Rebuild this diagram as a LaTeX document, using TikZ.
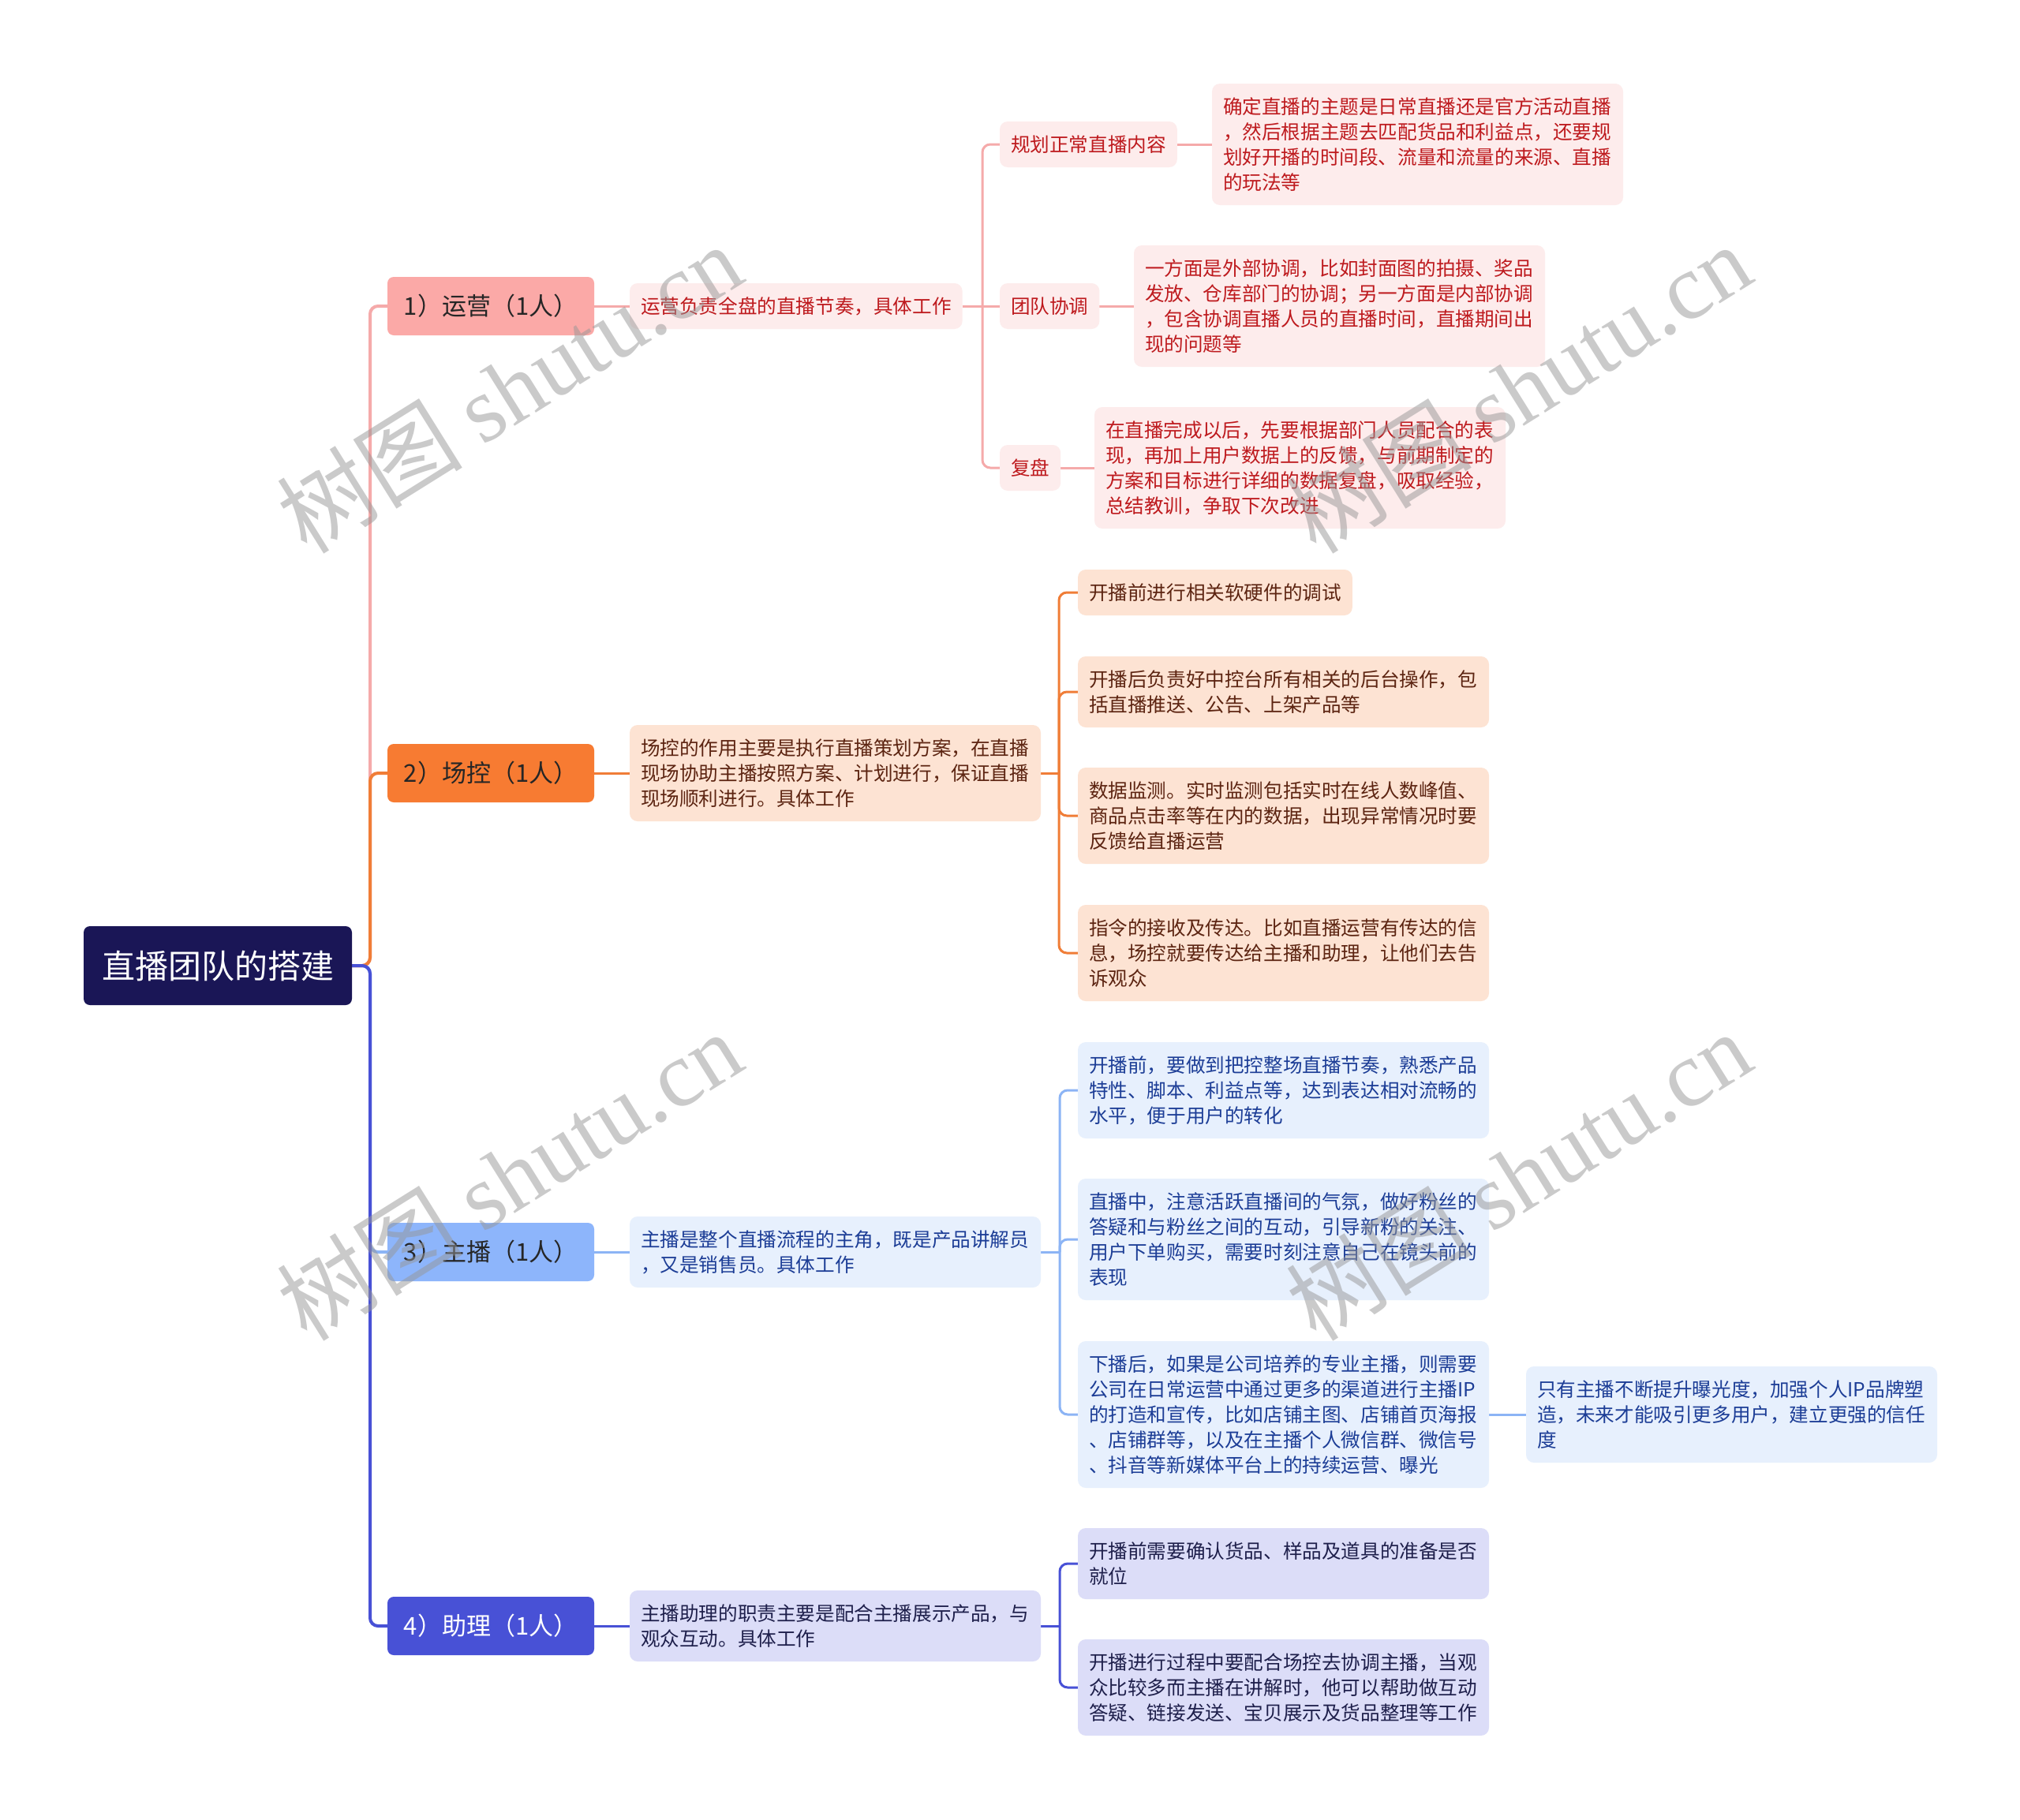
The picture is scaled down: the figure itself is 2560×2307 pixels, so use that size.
\documentclass[tikz,border=0pt]{standalone}
\usepackage{fontspec}
\setmainfont{Noto Sans CJK SC}
\newfontfamily\wmlatin{Liberation Serif}
\usetikzlibrary{backgrounds}
\definecolor{rootc}{HTML}{1A1656}
\definecolor{p1}{HTML}{FBA9A7}
\definecolor{p2}{HTML}{FDECEC}
\definecolor{p2t}{HTML}{BE1A1E}
\definecolor{pl}{HTML}{F5AAAA}
\definecolor{o1}{HTML}{F77B32}
\definecolor{o2}{HTML}{FDE3D3}
\definecolor{o2t}{HTML}{5C2411}
\definecolor{ol}{HTML}{F07D37}
\definecolor{b1}{HTML}{8DB5FB}
\definecolor{b2}{HTML}{E7F0FD}
\definecolor{b2t}{HTML}{1C3D96}
\definecolor{bl}{HTML}{8CB4F5}
\definecolor{i1}{HTML}{4851D6}
\definecolor{i2}{HTML}{DCDDF8}
\definecolor{i2t}{HTML}{1E1F4B}
\definecolor{il}{HTML}{4851D6}
\definecolor{wmc}{HTML}{969696}
\tikzset{
  conn/.style={line width=3pt, rounded corners=10pt},
  trunk/.style={line width=4pt, rounded corners=10pt},
  rootbox/.style={fill=rootc, text=white, rounded corners=8pt, minimum width=340pt, minimum height=100pt, inner sep=0pt, outer sep=0pt, anchor=west, font=\fontsize{42}{48}\selectfont},
  lvl1/.style={rounded corners=8pt, minimum width=262pt, minimum height=74pt, inner sep=0pt, outer sep=0pt, anchor=west, font=\fontsize{31}{36}\selectfont},
  lbox/.style={rounded corners=10pt, inner xsep=14pt, inner ysep=0pt, outer sep=0pt, anchor=west, align=left, font=\fontsize{24.6}{32}\selectfont},
  wide/.style={text width=493pt},
  pbox/.style={lbox, fill=p2, text=p2t},
  obox/.style={lbox, fill=o2, text=o2t},
  bbox/.style={lbox, fill=b2, text=b2t},
  ibox/.style={lbox, fill=i2, text=i2t},
  wm/.style={text=wmc, text opacity=0.5, rotate=32, font=\fontsize{118}{128}\selectfont},
}
\begin{document}
\begin{tikzpicture}[x=1pt,y=-1pt]
\useasboundingbox (0,0) rectangle (2560,2307);
% root and level 1
\node[rootbox] (root) at (106,1224) {直播团队的搭建};
\node[lvl1, fill=p1, text=black!85] (n1) at (491,388) {1）运营（1人）};
\node[lvl1, fill=o1, text=black!85] (n2) at (491,980) {2）场控（1人）};
\node[lvl1, fill=b1, text=black!85] (n3) at (491,1587) {3）主播（1人）};
\node[lvl1, fill=i1, text=white] (n4) at (491,2061) {4）助理（1人）};
% level 2
\node[pbox, minimum height=58pt] (d1) at (798,388) {运营负责全盘的直播节奏，具体工作};
\node[obox, wide, minimum height=122pt] (d2) at (798,980) {场控的作用主要是执行直播策划方案，在直播\\现场协助主播按照方案、计划进行，保证直播\\现场顺利进行。具体工作};
\node[bbox, wide, minimum height=90pt] (d3) at (798,1587) {主播是整个直播流程的主角，既是产品讲解员\\，又是销售员。具体工作};
\node[ibox, wide, minimum height=90pt] (d4) at (798,2061) {主播助理的职责主要是配合主播展示产品，与\\观众互动。具体工作};
% yunying
\node[pbox, minimum height=58pt] (a1) at (1267,183) {规划正常直播内容};
\node[pbox, minimum height=58pt] (a2) at (1267,388) {团队协调};
\node[pbox, minimum height=58pt] (a3) at (1267,593) {复盘};
\node[pbox, wide, minimum height=154pt] (a1x) at (1536,183) {确定直播的主题是日常直播还是官方活动直播\\，然后根据主题去匹配货品和利益点，还要规\\划好开播的时间段、流量和流量的来源、直播\\的玩法等};
\node[pbox, wide, minimum height=154pt] (a2x) at (1437,388) {一方面是外部协调，比如封面图的拍摄、奖品\\发放、仓库部门的协调；另一方面是内部协调\\，包含协调直播人员的直播时间，直播期间出\\现的问题等};
\node[pbox, wide, minimum height=154pt] (a3x) at (1387,593) {在直播完成以后，先要根据部门人员配合的表\\现，再加上用户数据上的反馈，与前期制定的\\方案和目标进行详细的数据复盘，吸取经验，\\总结教训，争取下次改进};
% changkong
\node[obox, minimum height=58pt] (b1) at (1366,751) {开播前进行相关软硬件的调试};
\node[obox, wide, minimum height=90pt] (b2) at (1366,877) {开播后负责好中控台所有相关的后台操作，包\\括直播推送、公告、上架产品等};
\node[obox, wide, minimum height=122pt] (b3) at (1366,1034) {数据监测。实时监测包括实时在线人数峰值、\\商品点击率等在内的数据，出现异常情况时要\\反馈给直播运营};
\node[obox, wide, minimum height=122pt] (b4) at (1366,1208) {指令的接收及传达。比如直播运营有传达的信\\息，场控就要传达给主播和助理，让他们去告\\诉观众};
% zhubo
\node[bbox, wide, minimum height=122pt] (c1) at (1366,1382) {开播前，要做到把控整场直播节奏，熟悉产品\\特性、脚本、利益点等，达到表达相对流畅的\\水平，便于用户的转化};
\node[bbox, wide, minimum height=154pt] (c2) at (1366,1571) {直播中，注意活跃直播间的气氛，做好粉丝的\\答疑和与粉丝之间的互动，引导新粉的关注、\\用户下单购买，需要时刻注意自己在镜头前的\\表现};
\node[bbox, wide, minimum height=186pt] (c3) at (1366,1793) {下播后，如果是公司培养的专业主播，则需要\\公司在日常运营中通过更多的渠道进行主播IP\\的打造和宣传，比如店铺主图、店铺首页海报\\、店铺群等，以及在主播个人微信群、微信号\\、抖音等新媒体平台上的持续运营、曝光};
\node[bbox, wide, minimum height=122pt] (c3x) at (1934,1793) {只有主播不断提升曝光度，加强个人IP品牌塑\\造，未来才能吸引更多用户，建立更强的信任\\度};
% zhuli
\node[ibox, wide, minimum height=90pt] (e1) at (1366,1982) {开播前需要确认货品、样品及道具的准备是否\\就位};
\node[ibox, wide, minimum height=122pt] (e2) at (1366,2139) {开播进行过程中要配合场控去协调主播，当观\\众比较多而主播在讲解时，他可以帮助做互动\\答疑、链接发送、宝贝展示及货品整理等工作};
% connectors
\begin{scope}[on background layer]
\fill[white] (0,0) rectangle (2560,2307);
\coordinate (tr) at (469,1224);
\draw[trunk, pl] (root.east) -- (tr) |- (n1.west);
\draw[trunk, bl] (root.east) -- (tr) |- (n3.west);
\draw[trunk, ol] (root.east) -- (tr) |- (n2.west);
\draw[trunk, il] (root.east) -- (tr) |- (n4.west);
\draw[conn, pl] (n1.east) -- (d1.west);
\draw[conn, ol] (n2.east) -- (d2.west);
\draw[conn, bl] (n3.east) -- (d3.west);
\draw[conn, il] (n4.east) -- (d4.west);
\coordinate (ja) at (1245,388);
\draw[conn, pl] (d1.east) -- (a2.west);
\draw[conn, pl] (ja) |- (a1.west);
\draw[conn, pl] (ja) |- (a3.west);
\draw[conn, pl] (a1.east) -- (a1x.west);
\draw[conn, pl] (a2.east) -- (a2x.west);
\draw[conn, pl] (a3.east) -- (a3x.west);
\coordinate (jb) at (1342,980);
\draw[conn, ol] (d2.east) -- (jb);
\draw[conn, ol] (jb) |- (b1.west);
\draw[conn, ol] (jb) |- (b2.west);
\draw[conn, ol] (jb) |- (b3.west);
\draw[conn, ol] (jb) |- (b4.west);
\coordinate (jc) at (1343,1587);
\draw[conn, bl] (d3.east) -- (jc);
\draw[conn, bl] (jc) |- (c1.west);
\draw[conn, bl] (jc) |- (c2.west);
\draw[conn, bl] (jc) |- (c3.west);
\draw[conn, bl] (c3.east) -- (c3x.west);
\coordinate (je) at (1343,2061);
\draw[conn, il] (d4.east) -- (je);
\draw[conn, il] (je) |- (e1.west);
\draw[conn, il] (je) |- (e2.west);
\end{scope}
% watermarks
\node[wm] (w1) at (645,492) {树图 {\wmlatin shutu.cn}};
\node[wm] (w2) at (1924,492) {树图 {\wmlatin shutu.cn}};
\node[wm] (w3) at (645,1490) {树图 {\wmlatin shutu.cn}};
\node[wm] (w4) at (1924,1490) {树图 {\wmlatin shutu.cn}};
\end{tikzpicture}
\end{document}
